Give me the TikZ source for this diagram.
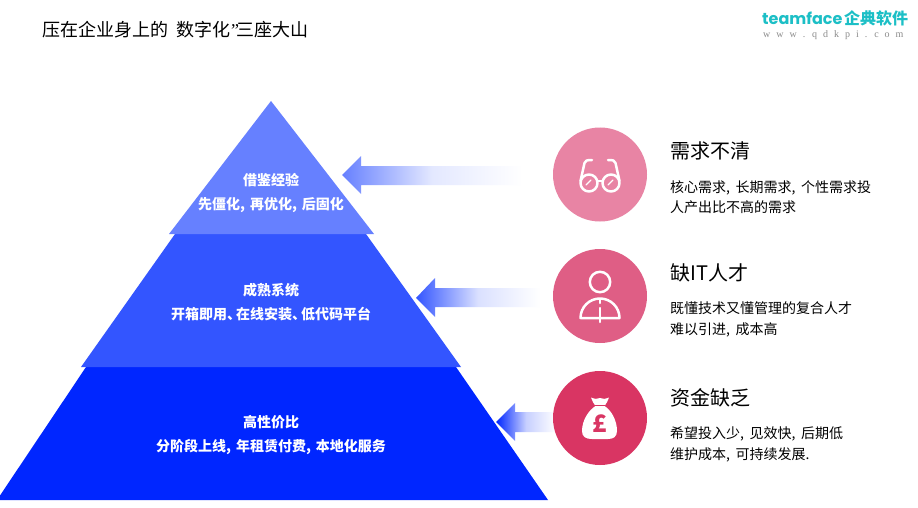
\documentclass[tikz,border=0pt]{standalone}
\usepackage{fontspec}
\usepackage{xcolor}
\setmainfont{Noto Sans CJK SC}
\newfontfamily\logofont{Poppins}
\newfontfamily\webfont{Liberation Serif}
\newfontfamily\wideweb[WordSpace=2.4]{Liberation Serif}
\newcommand\layerskip{\spaceskip=5pt\relax}
\newcommand\bodyskip{\spaceskip=5.6pt\relax}
\definecolor{layerA}{HTML}{6680FF}
\definecolor{layerB}{HTML}{3355FF}
\definecolor{layerC}{HTML}{0026FF}
\definecolor{roundA}{HTML}{E884A4}
\definecolor{roundB}{HTML}{DF5E85}
\definecolor{roundC}{HTML}{D93563}
\definecolor{logoteal}{HTML}{1CBFC6}
\tikzset{
    layertext/.style={text=white, font=\fontsize{14}{24}\selectfont\bfseries\layerskip, align=center},
    head/.style={anchor=west, inner sep=0pt, font=\fontsize{20}{24}\selectfont},
    body/.style={anchor=west, inner sep=0pt, align=left, font=\fontsize{14}{20.5}\selectfont\bodyskip},
    round/.style={circle, minimum size=94pt, inner sep=0pt},
    icon/.style={draw=white, line width=2.5pt, line cap=round, line join=round},
    logotext/.style={anchor=base west, inner sep=0pt, text=logoteal, text height=12pt, text depth=0pt}
}
\begin{document}
\begin{tikzpicture}[x=1pt,y=-1pt]
    \useasboundingbox (0,0) rectangle (918,508);
    \fill[white] (0,0) rectangle (918,508);
    \node[anchor=west, inner sep=0pt, font=\fontsize{18}{20}\selectfont] (title) at (42,30) {压在企业身上的\hspace{8.5pt}数字化\hspace{0.5pt}{\webfont ”}\hspace{-2.5pt}三座大山};
    \node[logotext, font=\logofont\fontsize{16}{20}\selectfont\bfseries] (logo) at (762,25) {teamface};
    \node[logotext, font=\fontsize{16}{20}\selectfont\bfseries] (logocn) at (844,25) {企典软件};
    \node[anchor=west, inner sep=0pt, text=black!45, font=\wideweb\fontsize{10}{12}\selectfont] (web) at (763,35) {w w w . q d k p i . c o m};

    \fill[layerC] (86,367) -- (456,367) -- (548,500) -- (-3,500) -- cycle;
    \fill[layerB] (175,234) -- (366,234) -- (461,367) -- (81,367) -- cycle;
    \fill[layerA] (271,101) -- (374,234) -- (169,234) -- cycle;
    \node[layertext] (top) at (271,193) {借鉴经验\\先僵化, 再优化, 后固化};
    \node[layertext] (mid) at (271,302) {成熟系统\\开箱即用、\hspace{-5pt}在线安装、\hspace{-5pt}低代码平台};
    \node[layertext] (low) at (271,435) {高性价比\\分阶段上线, 年租赁付费, 本地化服务};

    \shade[left color=layerA, right color=white, middle color=layerA!18] (342,175) -- (361,156) -- (361,166) -- (522,166) -- (522,185) -- (361,185) -- (361,194) -- cycle;
    \shade[left color=layerB, right color=white, middle color=layerB!18] (416,298) -- (435,278) -- (435,288) -- (540,288) -- (540,307) -- (435,307) -- (435,317) -- cycle;
    \shade[left color=layerC, right color=white, middle color=layerC!22] (496,422) -- (515,403) -- (515,412) -- (556,412) -- (556,432) -- (515,432) -- (515,441) -- cycle;

    \node[round, fill=roundA] (need) at (600,174.5) {};
    \node[round, fill=roundB] (talent) at (600,296) {};
    \node[round, fill=roundC] (fund) at (600,418) {};

    \draw[icon] (589,183) circle (8.5) (611,183) circle (8.5);
    \draw[icon] (597.5,181) -- (602.5,181);
    \draw[icon] (580.5,181) -- (584.5,163) .. controls (585,160.5) and (587,160) .. (592,160);
    \draw[icon] (619.5,181) -- (615.5,163) .. controls (615,160.5) and (613,160) .. (608,160);
    \draw[icon, line width=1.2pt] (586,185) -- (591,180) (608,185) -- (613,180);

    \draw[icon] (600,282) circle (10.2);
    \draw[icon] (580.5,318) arc (180:360:19.5) -- cycle;
    \draw[icon] (600,299) -- (600,303) (600,308) -- (600,322);

    \fill[white] (591,397.5) .. controls (595,399) and (597,399.5) .. (600,398) .. controls (603,399.5) and (605,399) .. (609,397.5) .. controls (608,401) and (606,404) .. (604.5,406) .. controls (611,410) and (617,420) .. (617,431) .. controls (617,437) and (613,439) .. (608,439) -- (592,439) .. controls (586,439) and (582,437) .. (582,431) .. controls (582,420) and (589,410) .. (595.5,406) .. controls (594,404) and (592,401) .. cycle;
    \draw[roundC, line width=1pt] (595,405.5) -- (605,405.5);
    \node[inner sep=0pt, text=roundC, font=\fontsize{24}{24}\selectfont\bfseries] (pound) at (600,424) {£};

    \node[head] (needhead) at (670,151) {需求不清};
    \node[body] (needtext) at (670,197) {核心需求, 长期需求, 个性需求投\\人产出比不高的需求};
    \node[head] (talenthead) at (670,273) {缺IT人才};
    \node[body] (talenttext) at (670,319.5) {既懂技术又懂管理的复合人才\\难以引进, 成本高};
    \node[head] (fundhead) at (670,398) {资金缺乏};
    \node[body] (fundtext) at (670,444.5) {希望投入少, 见效快, 后期低\\维护成本, 可持续发展.};
\end{tikzpicture}
\end{document}
